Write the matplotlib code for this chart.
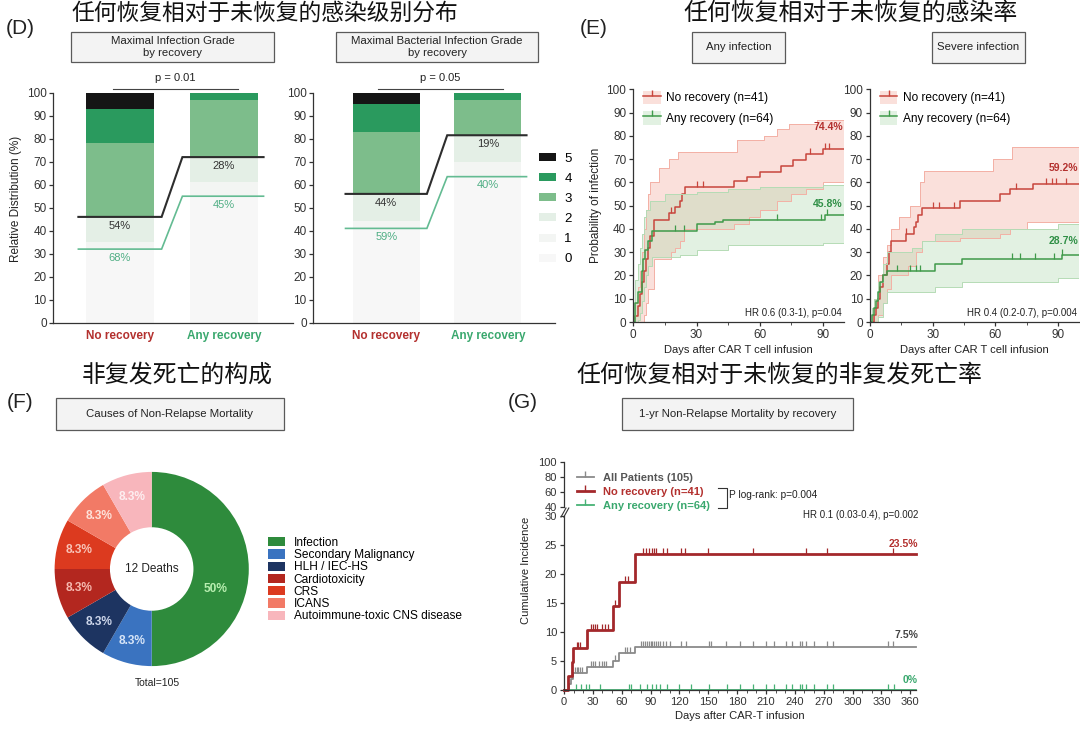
import numpy as np
import matplotlib
matplotlib.use('Agg')
import matplotlib.pyplot as plt
from matplotlib.patches import Rectangle, Patch
from matplotlib.lines import Line2D

plt.rcParams['font.family'] = ['Liberation Sans', 'Noto Sans CJK SC', 'DejaVu Sans']
plt.rcParams['font.size'] = 8.5
plt.rcParams['axes.linewidth'] = 0.9
plt.rcParams['axes.edgecolor'] = '#333333'
plt.rcParams['xtick.major.size'] = 3
plt.rcParams['ytick.major.size'] = 3
plt.rcParams['xtick.major.width'] = 0.9
plt.rcParams['ytick.major.width'] = 0.9
plt.rcParams['xtick.color'] = '#333333'
plt.rcParams['ytick.color'] = '#333333'

W, H = 1080, 731
CJK = 'Noto Sans CJK SC'

# ---------------- data ----------------
# (D) maximal grade distribution, % of patients per grade 0..5
grades = ['0', '1', '2', '3', '4', '5']
groups = ['No recovery', 'Any recovery']
inf_no_rec = [32, 3, 11, 32, 15, 7]
inf_any_rec = [55, 6, 11, 25, 3, 0]
bact_no_rec = [41, 3, 12, 27, 12, 5]
bact_any_rec = [63.5, 6.5, 11.5, 15.5, 3, 0]
inf_pct_ge3 = ['54%', '28%']
inf_pct_ge1 = ['68%', '45%']
bact_pct_ge3 = ['44%', '19%']
bact_pct_ge1 = ['59%', '40%']

# (E) any infection - cumulative incidence (days, %)
any_nr_t = [0, 1, 2, 3, 4, 5, 6, 7, 8, 10, 17, 20, 22, 23, 24.5, 48, 54, 60, 70, 76, 82, 90, 100]
any_nr_y = [0, 2.4, 7, 12, 17, 22, 27, 32, 37, 44, 47, 49.5, 52, 55, 58, 60.5, 62.5, 64.5, 67, 69.5, 72, 74.4, 74.4]
any_nr_hi_t = [0, 1, 2, 3, 4, 5, 6, 7, 8, 12, 17, 21, 49, 62, 68, 74, 87, 100]
any_nr_hi_y = [0, 8, 15, 22, 30, 40, 48, 55, 60, 66, 70, 73, 78, 80, 83, 85, 87, 87]
any_nr_lo_t = [0, 5, 6, 7, 10, 18, 20, 22, 24, 48, 55, 60, 68, 75, 82, 90, 100]
any_nr_lo_y = [0, 3, 8, 14, 27, 30, 32, 35, 40, 42, 45, 48, 52, 55, 57, 60, 60]
any_nr_cens = [18, 30, 33, 84, 91, 93]
any_rec_t = [0, 0.8, 2.4, 4, 4.7, 5.5, 7, 8.7, 30, 38.7, 42.6, 90.8, 100]
any_rec_y = [0, 8, 13, 22, 27, 31, 35, 39, 42, 43, 44, 45.8, 45.8]
any_rec_hi_t = [0, 1, 2, 3, 4, 5, 6, 8, 15, 30, 45, 60, 90, 100]
any_rec_hi_y = [0, 18, 25, 32, 38, 45, 48, 52, 55, 56, 57, 58, 59, 59]
any_rec_lo_t = [0, 2, 3, 4, 5, 6, 7, 9, 22, 30, 45, 90, 100]
any_rec_lo_y = [0, 1, 4, 9, 15, 20, 24, 28, 29, 31, 33, 34, 34]
any_rec_cens = [20, 24, 68, 89, 92]

# (E) severe infection
sev_nr_t = [0, 2, 3, 4, 5, 6, 8, 9, 10, 17, 21, 22, 23, 25, 43, 62, 67, 78, 100]
sev_nr_y = [0, 3, 6, 10, 15, 20, 25, 30, 35, 38, 41, 43, 46, 49, 52, 55, 57, 59.2, 59.2]
sev_nr_hi_t = [0, 2, 4, 6, 8, 10, 14, 19, 24, 26, 59, 68, 100]
sev_nr_hi_y = [0, 10, 20, 28, 33, 40, 45, 50, 60, 65, 70, 75, 75]
sev_nr_lo_t = [0, 4, 6, 8, 10, 18, 22, 25, 43, 62, 67, 75, 100]
sev_nr_lo_y = [0, 3, 8, 14, 20, 24, 30, 35, 36, 38, 40, 43, 43]
sev_nr_cens = [17, 30, 33, 40, 70, 84, 87, 89, 94]
sev_rec_t = [0, 1, 2, 3, 4, 5, 6, 8, 31, 44, 92, 100]
sev_rec_y = [0, 3, 6, 9, 13, 17, 20, 22, 25, 27, 28.7, 28.7]
sev_rec_hi_t = [0, 1, 2, 4, 6, 8, 20, 25, 31, 44, 90, 100]
sev_rec_hi_y = [0, 6, 10, 17, 25, 30, 32, 35, 38, 40, 42, 42]
sev_rec_lo_t = [0, 4, 6, 8, 31, 44, 90, 100]
sev_rec_lo_y = [0, 2, 8, 13, 15, 17, 19, 19]
sev_rec_cens = [13, 19, 22, 24, 68, 72, 79, 88, 92]

# (F) causes of non-relapse mortality
causes = ['Infection', 'Secondary Malignancy', 'HLH / IEC-HS', 'Cardiotoxicity',
          'CRS', 'ICANS', 'Autoimmune-toxic CNS disease']
deaths = [6, 1, 1, 1, 1, 1, 1]
cause_colors = ['#2e8b3c', '#3a73c0', '#1d3461', '#b3271f', '#dc3a1f', '#f27a66', '#f8b6bc']
pct_colors = ['#b8eeb0', '#d6e4f7', '#cdd6ea', '#f6b9b0', '#f8c4b8', '#fde2da', '#fdeef0']

# (G) 1-yr non-relapse mortality (days, %)
nrm_all_t = [0, 5, 7, 9.7, 24.2, 51.2, 57.4, 73.7, 366]
nrm_all_y = [0, 1, 1.9, 2.9, 3.9, 5.0, 6.3, 7.5, 7.5]
nrm_nr_t = [0, 4.5, 8, 9.7, 24.2, 51.2, 57.4, 73.7, 366]
nrm_nr_y = [0, 2.5, 4.9, 7.3, 10.3, 14.5, 18.7, 23.5, 23.5]
nrm_rec_t = [0, 366]
nrm_rec_y = [0, 0]
nrm_all_cens = [11, 13, 15, 17, 19, 28, 30, 32, 36, 39, 42, 44, 53, 63, 66, 69,
                80, 82, 84, 86, 88, 90, 92, 94, 96, 98, 100, 103, 106, 110, 122, 127,
                151, 153, 168, 183, 196, 210, 218, 231, 237, 245, 247, 252, 260, 273,
                280, 337, 342]
nrm_nr_cens = [13, 15, 17, 28, 30, 32, 34, 40, 43, 46, 53, 63, 67, 82, 85, 88, 91,
               94, 96, 103, 107, 122, 126, 150, 196, 252, 273, 342]
nrm_rec_cens = [12, 18, 23, 26, 37, 68, 70, 79, 86, 91, 96, 100, 107, 120, 132, 151,
                169, 183, 196, 210, 218, 231, 237, 245, 247, 252, 260, 273, 280, 337, 343]

RED = '#c8453c'
GREEN = '#3f9a4a'
TXT_RED = '#b3302e'
TXT_GREEN = '#3aa86e'

fig = plt.figure(figsize=(W / 100, H / 100), dpi=100)


def fx(x):
    return x / W


def fy(y):
    return 1 - y / H


def ax_px(x0, y0, x1, y1):
    return fig.add_axes([x0 / W, 1 - y1 / H, (x1 - x0) / W, (y1 - y0) / H])


def title_box(x0, y0, x1, y1, text, fs=8.2):
    fig.add_artist(Rectangle((fx(x0), fy(y1)), (x1 - x0) / W, (y1 - y0) / H,
                             transform=fig.transFigure, facecolor='#f3f3f3',
                             edgecolor='#5a5a5a', lw=0.9))
    fig.text(fx((x0 + x1) / 2), fy((y0 + y1) / 2), text, ha='center', va='center',
             fontsize=fs, color='#222222', linespacing=1.2)


def step_at(tk, yk, tq):
    idx = np.searchsorted(tk, tq, side='right') - 1
    return np.asarray(yk, dtype=float)[np.clip(idx, 0, None)]


# ---------------- headings ----------------
fig.text(fx(265), fy(13), '任何恢复相对于未恢复的感染级别分布', family=CJK, fontsize=16.4,
         ha='center', va='center', color='#111111')
fig.text(fx(851), fy(13), '任何恢复相对于未恢复的感染率', family=CJK, fontsize=17.2,
         ha='center', va='center', color='#111111')
fig.text(fx(177), fy(375), '非复发死亡的构成', family=CJK, fontsize=17.2,
         ha='center', va='center', color='#111111')
fig.text(fx(779), fy(375), '任何恢复相对于未恢复的非复发死亡率', family=CJK, fontsize=17.2,
         ha='center', va='center', color='#111111')
for lab, x, y in [('(D)', 20, 29), ('(E)', 594, 28), ('(F)', 20, 403), ('(G)', 523, 403)]:
    fig.text(fx(x), fy(y), lab, fontsize=15, ha='center', va='center', color='#222222')

# ---------------- (D) ----------------
grade_colors = ['#f7f7f7', '#f3f5f3', '#e4efe6', '#7dbd8b', '#2a9a5e', '#151515']


def grade_panel(ax, no_rec, any_rec, pct_ge3, pct_ge1, ptext, width, pline):
    data = np.array([no_rec, any_rec], dtype=float)
    x = np.arange(len(groups))
    bottom = np.zeros(len(groups))
    handles = []
    for g, name in enumerate(grades):
        b = ax.bar(x, data[:, g], width, bottom=bottom, color=grade_colors[g], lw=0, label=name)
        handles.append(b)
        bottom += data[:, g]
    cum = data.cumsum(axis=1)
    sx = [x[0] - 0.4, x[0] + 0.4, x[1] - 0.4, x[1] + 0.38]
    for lvl, col, tcol, lw, labels in [(cum[:, 2], '#2d2d2d', '#333333', 1.5, pct_ge3),
                                       (cum[:, 0], '#63bb92', '#4fae84', 1.2, pct_ge1)]:
        ax.plot(sx, [lvl[0], lvl[0], lvl[1], lvl[1]], color=col, lw=lw, solid_joinstyle='miter')
        for i in range(len(x)):
            ax.text(x[i], lvl[i] - 3.8, labels[i], ha='center', va='center', fontsize=8, color=tcol)
    ax.plot(pline, [101.8, 101.8], color='#444444', lw=0.8, clip_on=False)
    ax.text(np.mean(pline), 106.6, ptext, ha='center', va='center', fontsize=8, color='#222222')
    ax.set_ylim(0, 100)
    ax.set_yticks(np.arange(0, 101, 10))
    ax.set_xticks(x)
    ax.set_xticklabels(groups, fontweight='bold', fontsize=8.5)
    ax.get_xticklabels()[0].set_color(TXT_RED)
    ax.get_xticklabels()[1].set_color(TXT_GREEN)
    ax.tick_params(axis='x', length=0, pad=5)
    ax.tick_params(axis='y', labelsize=8.5, pad=1.5)
    for s in ['top', 'right']:
        ax.spines[s].set_visible(False)
    return handles


ax_d1 = ax_px(53, 92.7, 293, 322.7)
grade_panel(ax_d1, inf_no_rec, inf_any_rec, inf_pct_ge3, inf_pct_ge1, 'p = 0.01', 0.645, [-0.07, 1.13])
ax_d1.set_xlim(-0.644, 1.663)
ax_d1.set_ylabel('Relative Distribution (%)', fontsize=8.5, color='#222222')
ax_d1.yaxis.set_label_coords(-0.13, 0.54)

ax_d2 = ax_px(313, 92.7, 555, 322.7)
h = grade_panel(ax_d2, bact_no_rec, bact_any_rec, bact_pct_ge3, bact_pct_ge1, 'p = 0.05', 0.66, [-0.08, 1.15])
ax_d2.set_xlim(-0.72, 1.66)
ax_d2.legend(h[::-1], grades[::-1], loc='upper left', bbox_to_anchor=(fx(532), fy(146)),
             bbox_transform=fig.transFigure, frameon=False, borderpad=0, labelspacing=0.62,
             handlelength=1.35, handleheight=0.55, handletextpad=0.6, fontsize=9.5)

title_box(71, 32, 274, 62, 'Maximal Infection Grade\nby recovery')
title_box(336, 32, 538, 62, 'Maximal Bacterial Infection Grade\nby recovery')

# ---------------- (E) ----------------
band_red, edge_red = '#f2a393', '#f3b0a5'
band_green, edge_green = '#a9d7a9', '#b5dbb5'


def ci_curve(ax, t, y, hi_t, hi_y, lo_t, lo_y, cens, col, band, edge):
    grid = np.unique(np.concatenate([hi_t, lo_t]))
    hi = step_at(hi_t, hi_y, grid)
    lo = step_at(lo_t, lo_y, grid)
    ax.fill_between(grid, lo, hi, step='post', color=band, alpha=0.33, lw=0)
    ax.step(hi_t, hi_y, where='post', color=edge, lw=0.7)
    ax.step(lo_t, lo_y, where='post', color=edge, lw=0.7)
    ax.step(t, y, where='post', color=col, lw=1.1)
    ax.plot(cens, step_at(t, y, cens), ls='none', marker=2, ms=4, mew=0.9, color=col)


def km_axes(ax, hr):
    ax.set_xlim(0, 100)
    ax.set_ylim(0, 100)
    ax.set_yticks(np.arange(0, 101, 10))
    ax.set_xticks([0, 30, 60, 90])
    ax.set_xticks([15, 45, 75], minor=True)
    ax.tick_params(which='minor', length=2)
    ax.tick_params(labelsize=8.5, pad=2)
    for s in ['top', 'right']:
        ax.spines[s].set_visible(False)
    ax.set_xlabel('Days after CAR T cell infusion', fontsize=8, labelpad=3, color='#222222')
    ax.text(0.99, 0.037, hr, transform=ax.transAxes, ha='right', va='center', fontsize=7,
            color='#222222')
    hands = [(Patch(facecolor=band_red, alpha=0.33, lw=0),
              Line2D([], [], color=RED, marker=2, ms=4, lw=1.1)),
             (Patch(facecolor=band_green, alpha=0.33, lw=0),
              Line2D([], [], color=GREEN, marker=2, ms=4, lw=1.1))]
    ax.legend(hands, ['No recovery (n=41)', 'Any recovery (n=64)'], loc='upper left',
              bbox_to_anchor=(0.02, 1.02), frameon=False, borderpad=0, fontsize=8.6,
              labelspacing=0.55, handlelength=1.45, handleheight=1.4, handletextpad=0.45)


ax_e1 = ax_px(633.3, 89.3, 844, 322)
ci_curve(ax_e1, any_nr_t, any_nr_y, any_nr_hi_t, any_nr_hi_y, any_nr_lo_t, any_nr_lo_y,
         any_nr_cens, RED, band_red, edge_red)
ci_curve(ax_e1, any_rec_t, any_rec_y, any_rec_hi_t, any_rec_hi_y, any_rec_lo_t, any_rec_lo_y,
         any_rec_cens, GREEN, band_green, edge_green)
km_axes(ax_e1, 'HR 0.6 (0.3-1), p=0.04')
ax_e1.set_ylabel('Probability of infection', fontsize=8.5, color='#222222', labelpad=3)
ax_e1.text(99.5, 84, '74.4%', ha='right', va='center', fontsize=7.5, fontweight='bold', color=TXT_RED)
ax_e1.text(99.5, 50.7, '45.8%', ha='right', va='center', fontsize=7.5, fontweight='bold', color='#2f8f46')

ax_e2 = ax_px(870, 89.3, 1079, 322)
ci_curve(ax_e2, sev_nr_t, sev_nr_y, sev_nr_hi_t, sev_nr_hi_y, sev_nr_lo_t, sev_nr_lo_y,
         sev_nr_cens, RED, band_red, edge_red)
ci_curve(ax_e2, sev_rec_t, sev_rec_y, sev_rec_hi_t, sev_rec_hi_y, sev_rec_lo_t, sev_rec_lo_y,
         sev_rec_cens, GREEN, band_green, edge_green)
km_axes(ax_e2, 'HR 0.4 (0.2-0.7), p=0.004')
ax_e2.text(99.5, 66.3, '59.2%', ha='right', va='center', fontsize=7.5, fontweight='bold', color=TXT_RED)
ax_e2.text(99.5, 35, '28.7%', ha='right', va='center', fontsize=7.5, fontweight='bold', color='#2f8f46')

title_box(692, 32, 785, 63, 'Any infection')
title_box(932, 32, 1025, 63, 'Severe infection')

# ---------------- (F) ----------------
ax_f = ax_px(151.7 - 100, 569 - 100, 151.7 + 100, 569 + 100)
wedges, _, autotexts = ax_f.pie(
    deaths, colors=cause_colors, startangle=90, counterclock=False, radius=1,
    wedgeprops=dict(width=0.57, edgecolor='none'),
    autopct=lambda p: f'{p:.0f}%' if p > 20 else f'{p:.1f}%', pctdistance=0.77,
    textprops=dict(fontsize=8.6, fontweight='bold'))
for t, c in zip(autotexts, pct_colors):
    t.set_color(c)
autotexts[0].set_position((0.66, -0.21))
ax_f.set_xlim(-1.03, 1.03)
ax_f.set_ylim(-1.03, 1.03)
ax_f.text(0, 0, '12 Deaths', ha='center', va='center', fontsize=8.5, color='#222222')
fig.text(fx(157), fy(683), 'Total=105', ha='center', va='center', fontsize=7.5, color='#222222')
ax_f.legend(wedges, causes, loc='upper left', bbox_to_anchor=(fx(262), fy(531)),
            bbox_transform=fig.transFigure, frameon=False, borderpad=0, fontsize=8.6,
            labelspacing=0.02, handlelength=1.45, handleheight=0.8, handletextpad=0.7)
title_box(56, 398, 284, 430, 'Causes of Non-Relapse Mortality')

# ---------------- (G) ----------------
G_RED = '#a3282b'
G_GRAY = '#8a8a8a'
G_GREEN = '#47b275'

ax_g = ax_px(564, 516, 916, 690)
ax_gt = ax_px(564, 461.7, 916, 506.7)
for t, y, cens, col, lw in [(nrm_all_t, nrm_all_y, nrm_all_cens, G_GRAY, 1.3),
                            (nrm_rec_t, nrm_rec_y, nrm_rec_cens, G_GREEN, 1.3),
                            (nrm_nr_t, nrm_nr_y, nrm_nr_cens, G_RED, 2.0)]:
    ax_g.step(t, y, where='post', color=col, lw=lw, clip_on=False)
    ax_g.plot(cens, step_at(t, y, cens), ls='none', marker=2, ms=4.5, mew=0.9, color=col,
              clip_on=False)
ax_g.set_xlim(0, 366)
ax_g.set_ylim(0, 30)
ax_g.set_xticks(np.arange(0, 361, 30))
ax_g.set_xticks(np.arange(10, 361, 10), minor=True)
ax_g.set_yticks(np.arange(0, 31, 5))
ax_g.tick_params(which='minor', length=2)
ax_g.tick_params(labelsize=8, pad=2)
for s in ['top', 'right']:
    ax_g.spines[s].set_visible(False)
ax_g.set_xlabel('Days after CAR-T infusion', fontsize=8, labelpad=3, color='#222222')
fig.text(fx(526), fy(570), 'Cumulative Incidence', rotation=90, ha='center', va='center',
         fontsize=8, color='#222222')

ax_gt.set_xlim(0, 366)
ax_gt.set_ylim(40, 100)
ax_gt.set_yticks([40, 60, 80, 100])
ax_gt.set_xticks([])
ax_gt.tick_params(labelsize=8, pad=2)
for s in ['top', 'right', 'bottom']:
    ax_gt.spines[s].set_visible(False)

g_hands = [Line2D([], [], color=G_GRAY, lw=1.3, marker=2, ms=4.5),
           Line2D([], [], color=G_RED, lw=2.0, marker=2, ms=4.5),
           Line2D([], [], color=G_GREEN, lw=1.3, marker=2, ms=4.5)]
leg = ax_gt.legend(g_hands, ['All Patients (105)', 'No recovery (n=41)', 'Any recovery (n=64)'],
                   loc='upper left', bbox_to_anchor=(fx(571), fy(467)),
                   bbox_transform=fig.transFigure, frameon=False, borderpad=0,
                   labelspacing=0.36, handlelength=1.6, handletextpad=0.75,
                   prop=dict(weight='bold', size=8))
for t, c in zip(leg.get_texts(), ['#555555', TXT_RED, TXT_GREEN]):
    t.set_color(c)

fig.add_artist(Line2D([fx(718), fx(726.5), fx(726.5), fx(718)],
                      [fy(488), fy(488), fy(508), fy(508)], transform=fig.transFigure,
                      color='#333333', lw=0.8))
fig.text(fx(729), fy(495), 'P log-rank: p=0.004', ha='left', va='center', fontsize=7.3,
         color='#222222')
ax_g.text(368, 30.2, 'HR 0.1 (0.03-0.4), p=0.002', ha='right', va='center', fontsize=7,
          color='#222222')
ax_g.text(368, 25.2, '23.5%', ha='right', va='center', fontsize=7.5, fontweight='bold', color=TXT_RED)
ax_g.text(368, 9.5, '7.5%', ha='right', va='center', fontsize=7.5, fontweight='bold', color='#444444')
ax_g.text(368, 1.7, '0%', ha='right', va='center', fontsize=7.5, fontweight='bold', color=TXT_GREEN)

# axis break marks
for dx in (0, 2.8):
    fig.add_artist(Line2D([fx(561 + dx), fx(566 + dx)], [fy(517), fy(508)],
                          transform=fig.transFigure, color='#333333', lw=0.8))

title_box(622, 398, 853, 430, '1-yr Non-Relapse Mortality by recovery')

fig.savefig('out.png', dpi=100, facecolor='white')
